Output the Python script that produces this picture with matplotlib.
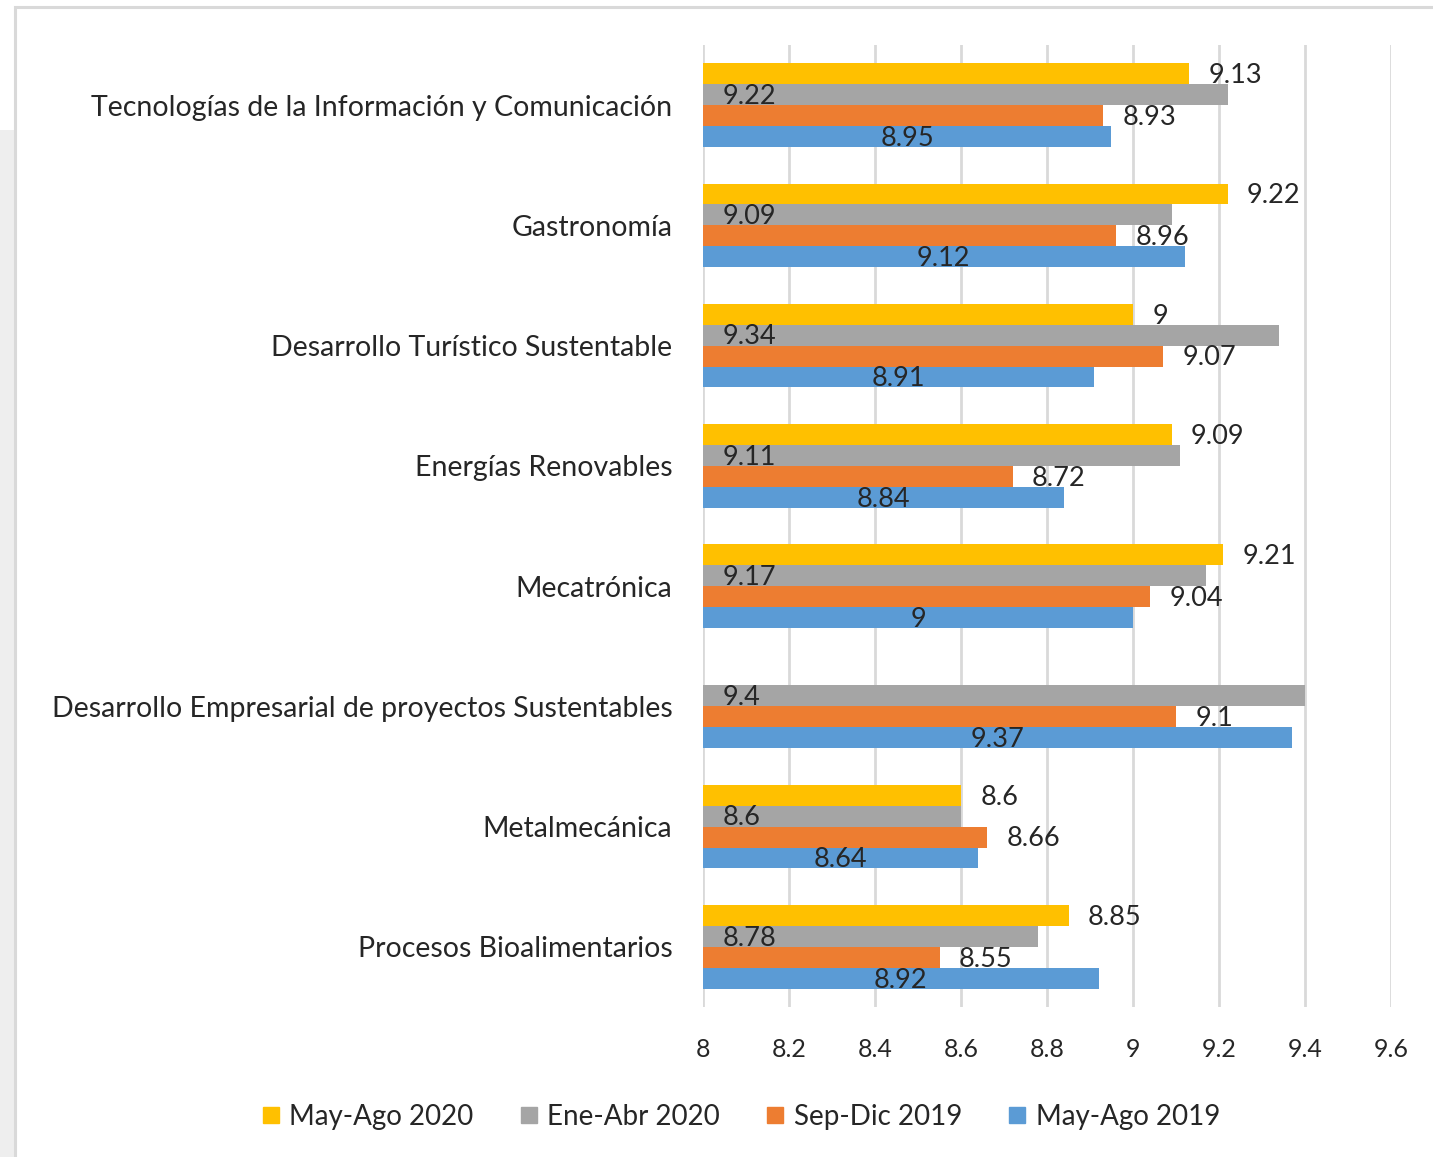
import numpy as np
import matplotlib
matplotlib.use('Agg')
import matplotlib.pyplot as plt
from matplotlib.patches import Rectangle
from matplotlib.lines import Line2D

plt.rcParams['font.family'] = ['Lato', 'DejaVu Sans']

# Data (top to bottom as in the chart)
categories = [
    'Tecnologías de la Información y Comunicación',
    'Gastronomía',
    'Desarrollo Turístico Sustentable',
    'Energías Renovables',
    'Mecatrónica',
    'Desarrollo Empresarial de proyectos Sustentables',
    'Metalmecánica',
    'Procesos Bioalimentarios',
]
may_ago_2020 = [9.13, 9.22, 9.00, 9.09, 9.21, None, 8.60, 8.85]
ene_abr_2020 = [9.22, 9.09, 9.34, 9.11, 9.17, 9.40, 8.60, 8.78]
sep_dic_2019 = [8.93, 8.96, 9.07, 8.72, 9.04, 9.10, 8.66, 8.55]
may_ago_2019 = [8.95, 9.12, 8.91, 8.84, 9.00, 9.37, 8.64, 8.92]

series_names = ['May-Ago 2020', 'Ene-Abr 2020', 'Sep-Dic 2019', 'May-Ago 2019']
series_values = [may_ago_2020, ene_abr_2020, sep_dic_2019, may_ago_2019]
colors = ['#FFC000', '#A5A5A5', '#ED7D31', '#5B9BD5']
label_modes = ['outside', 'base', 'outside', 'center']

XMIN, XMAX = 8.0, 9.6
TXT = '#262626'

fig = plt.figure(figsize=(14.33, 11.57), dpi=100)

# frame / background like the screenshot
fig.patches.append(Rectangle((0, 0), 15 / 1433, 1 - 130 / 1157, transform=fig.transFigure,
                             facecolor='#eeeeee', edgecolor='none', zorder=-3))
fig.patches.append(Rectangle((15 / 1433, -0.05), 1.1, 1 - 5 / 1157 + 0.05 - 0.002,
                             transform=fig.transFigure, facecolor='white',
                             edgecolor='#d9d9d9', linewidth=2.2, zorder=-2))

ax = fig.add_axes([703 / 1433, 1 - 1007 / 1157, (1391 - 703) / 1433, (1007 - 45) / 1157])

n = len(categories)
y = np.arange(n)
h = 0.174
offsets = [-1.5 * h, -0.5 * h, 0.5 * h, 1.5 * h]

for vals, col, off, mode in zip(series_values, colors, offsets, label_modes):
    for i, v in enumerate(vals):
        if v is None:
            continue
        ax.barh(y[i] + off, v - XMIN, left=XMIN, height=h, color=col, zorder=2)
        lbl = f'{v:g}'
        yy = y[i] + off + 0.015
        if mode == 'outside':
            ax.text(v + 0.045, yy, lbl, ha='left', va='center', fontsize=19.5, color=TXT, zorder=3)
        elif mode == 'base':
            ax.text(XMIN + 0.045, yy, lbl, ha='left', va='center', fontsize=19.5, color=TXT, zorder=3)
        else:
            ax.text((XMIN + v) / 2, yy, lbl, ha='center', va='center', fontsize=19.5, color=TXT, zorder=3)

ax.set_xlim(XMIN, XMAX)
ax.set_ylim(n - 0.5, -0.5)
ax.set_xticks(np.arange(8.0, 9.61, 0.2))
ax.set_xticklabels(['8', '8.2', '8.4', '8.6', '8.8', '9', '9.2', '9.4', '9.6'])
ax.set_yticks(y)
ax.set_yticklabels(categories)
ax.tick_params(axis='both', length=0, labelcolor=TXT)
ax.tick_params(axis='y', pad=22, labelsize=20.5)
ax.tick_params(axis='x', pad=22, labelsize=18)
ax.grid(axis='x', color='#d9d9d9', linewidth=2.0, zorder=0)
ax.set_axisbelow(True)
for s in ax.spines.values():
    s.set_visible(False)

handles = [Line2D([0], [0], marker='s', linestyle='none', markersize=11.5,
                  markerfacecolor=c, markeredgecolor=c) for c in colors]
fig.legend(handles, series_names, loc='center', ncol=4, frameon=False,
           bbox_to_anchor=(740 / 1433, 1 - 1117 / 1157), fontsize=20,
           handlelength=0.8, handletextpad=0.25, columnspacing=1.6, labelcolor=TXT)

fig.savefig('out.png', dpi=100)
